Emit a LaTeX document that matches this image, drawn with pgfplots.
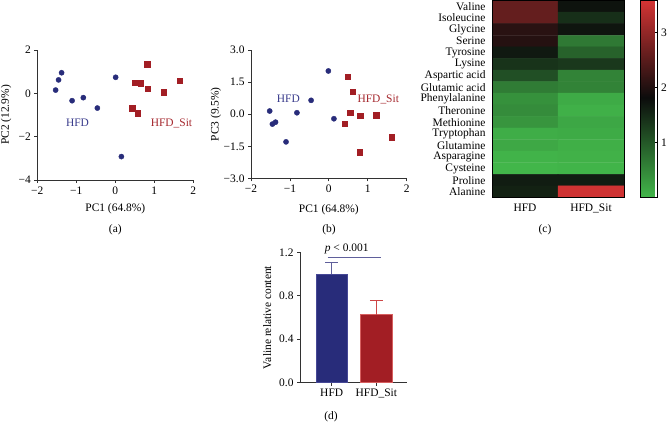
\documentclass[border=0pt]{standalone}
\usepackage{fontspec}
\setmainfont{Liberation Serif}
\usepackage{pgfplots}
\pgfplotsset{compat=1.18}
\definecolor{navy}{RGB}{40,44,122}
\definecolor{dred}{RGB}{162,30,36}
\definecolor{hfdtxt}{RGB}{58,60,140}
\definecolor{sittxt}{RGB}{165,40,46}
\definecolor{errblue}{RGB}{95,95,155}
\definecolor{errred}{RGB}{205,70,70}
\definecolor{navyedge}{RGB}{70,72,150}
\definecolor{rededge}{RGB}{215,95,95}
\definecolor{axgray}{RGB}{50,50,50}
\newcommand{\fs}{\fontsize{11.5}{13}\selectfont}
\pgfplotsset{
  basefont/.style={font=\fs,
    tick label style={font=\fs},
    label style={font=\fs}},
  pca/.style={basefont, scale only axis, axis x line*=bottom, axis y line*=left,
    axis line style={-, line width=0.8bp, axgray},
    tick style={line width=0.8bp, axgray}, tick align=outside, major tick length=3bp,
    clip=false},
}
\begin{document}
\begin{tikzpicture}[x=1bp,y=1bp]
\useasboundingbox (0,0) rectangle (667,433);

% ---------- (a)
\begin{axis}[pca, at={(37.3bp,253bp)}, anchor=south west, width=156bp, height=130bp,
  xmin=-2, xmax=2, ymin=-4, ymax=2,
  xtick={-2,-1,0,1,2}, xticklabels={−2,−1,0,1,2},
  ytick={-4,-2,0,2}, yticklabels={−4,−2,0,2},
  xlabel={PC1 (64.8\%)}, ylabel={PC2 (12.9\%)},
  xlabel style={at={(axis description cs:0.5,-0.223)}, anchor=center},
  ylabel style={at={(axis description cs:-0.2,0.5)}, anchor=center}]
\addplot[only marks, mark=*, mark size=2.6bp, navy] coordinates {
(-1.377,0.95) (-1.455,0.62) (-1.53,0.15) (-1.108,-0.34) (-0.82,-0.2) (-0.46,-0.68) (0.009,0.74) (0.156,-2.92)};
\addplot[only marks, mark=square*, mark size=2.7bp, dred] coordinates {
(0.823,1.35) (0.502,0.49) (0.65,0.46) (0.83,0.2) (1.24,0.05) (1.65,0.58) (0.43,-0.69) (0.57,-0.91)};
\node[text=hfdtxt] at (axis cs:-0.97,-1.38) {HFD};
\node[text=sittxt] at (axis cs:1.44,-1.38) {HFD\_Sit};
\end{axis}

% ---------- (b)
\begin{axis}[pca, at={(251bp,254.5bp)}, anchor=south west, width=155.7bp, height=128.5bp,
  xmin=-2, xmax=2, ymin=-3, ymax=3,
  xtick={-2,-1,0,1,2}, xticklabels={−2,−1,0,1,2},
  ytick={-3,-1.5,0,1.5,3}, yticklabels={−3.0,−1.5,0.0,1.5,3.0},
  xlabel={PC1 (64.8\%)}, ylabel={PC3 (9.5\%)},
  xlabel style={at={(axis description cs:0.5,-0.245)}, anchor=center},
  ylabel style={at={(axis description cs:-0.225,0.5)}, anchor=center}]
\addplot[only marks, mark=*, mark size=2.6bp, navy] coordinates {
(-0.013,2.02) (-0.456,0.65) (-0.82,0.07) (-1.52,0.15) (-1.37,-0.37) (-1.45,-0.46) (-1.10,-1.29) (0.13,-0.21)};
\addplot[only marks, mark=square*, mark size=2.7bp, dred] coordinates {
(0.49,1.75) (0.62,1.04) (0.55,0.07) (0.81,-0.07) (1.215,-0.05) (0.405,-0.43) (1.616,-1.08) (0.79,-1.78)};
\node[text=hfdtxt] at (axis cs:-1.04,0.71) {HFD};
\node[text=sittxt] at (axis cs:1.27,0.71) {HFD\_Sit};
\end{axis}

% ---------- (c) heatmap
\begin{axis}[basefont, scale only axis, at={(492bp,235.5bp)}, anchor=south west,
  width=132bp, height=197bp,
  xmin=-0.5, xmax=1.5, ymin=-0.5, ymax=16.5, y dir=reverse,
  enlargelimits=false,
  xtick={0,1}, xticklabels={HFD,HFD\_Sit},
  ytick={0,...,16},
  yticklabels={Valine,Isoleucine,Glycine,Serine,Tyrosine,Lysine,Aspartic acid,Glutamic acid,Phenylalanine,Theronine,Methionine,Tryptophan,Glutamine,Asparagine,Cysteine,Proline,Alanine},
  major tick length=0pt,
  xticklabel style={yshift=-3bp},
  yticklabel style={xshift=-3bp},
  axis line style={line width=0.8bp, black},
  axis on top,
  colormap={heat}{rgb255(0)=(66,182,74) rgb255(182)=(12,12,12) rgb255(359)=(212,52,52)},
  point meta min=0, point meta max=3.59,
  colorbar,
  colorbar style={scale only axis, width=17bp, height=197bp,
    at={(parent axis.north east)}, anchor=north west, xshift=8bp,
    ytick={1,2,3}, yticklabels={1,2,3},
    ytick pos=right, yticklabel pos=right, tick align=inside,
    major tick length=2.5bp, tick style={black, line width=0.8bp},
    axis line style={line width=0.8bp, black},
    yticklabel style={font=\fs}}]
\addplot[matrix plot*, shader=faceted, faceted color=mapped color, line width=0.4bp,
  mesh/cols=2, mesh/rows=17, point meta=explicit] table[meta=c] {
x y c
0 0 2.60
1 0 1.75
0 1 2.60
1 1 1.45
0 2 2.08
1 2 1.72
0 3 2.04
1 3 0.65
0 4 1.68
1 4 0.90
0 5 1.40
1 5 1.35
0 6 1.10
1 6 0.55
0 7 0.62
1 7 0.55
0 8 0.40
1 8 0.12
0 9 0.45
1 9 0.06
0 10 0.35
1 10 0.16
0 11 0.10
1 11 0.12
0 12 0.15
1 12 0.08
0 13 0.03
1 13 0.05
0 14 0.00
1 14 0.02
0 15 1.65
1 15 1.65
0 16 1.60
1 16 3.55
};
\end{axis}

% ---------- (d)
\begin{axis}[pca, at={(300bp,50.3bp)}, anchor=south west, width=106.7bp, height=130.4bp,
  xmin=0.29, xmax=2.68, ymin=0, ymax=1.2,
  xtick={1,2}, xticklabels={HFD,HFD\_Sit},
  ytick={0,0.4,0.8,1.2}, yticklabels={0.0,0.4,0.8,1.2},
  ylabel={Valine relative content},
  ylabel style={at={(axis description cs:-0.306,0.5)}, anchor=center}]
\addplot[ybar, bar shift=0pt, bar width=31.5bp, fill=navy, draw=navyedge, line width=0.6bp,
  error bars/.cd, y dir=plus, y explicit,
  error bar style={line width=1bp, errblue},
  error mark options={rotate=90, mark size=6.5bp, line width=1bp, errblue}]
  coordinates {(1,1.0) +- (0,0.104)};
\addplot[ybar, bar shift=0pt, bar width=31.5bp, fill=dred, draw=rededge, line width=0.6bp,
  error bars/.cd, y dir=plus, y explicit,
  error bar style={line width=1bp, errred},
  error mark options={rotate=90, mark size=6.5bp, line width=1bp, errred}]
  coordinates {(2,0.626) +- (0,0.126)};
\draw[line width=0.8bp, errblue] (axis cs:0.91,1.154) -- (axis cs:2.10,1.154);
\node at (axis cs:1.337,1.23) {\textit{p} < 0.001};
\end{axis}

% panel letters
\node[font=\fs] at (115.3,203) {(a)};
\node[font=\fs] at (329,203) {(b)};
\node[font=\fs] at (545,203) {(c)};
\node[font=\fs] at (331,16) {(d)};
\end{tikzpicture}
\end{document}
